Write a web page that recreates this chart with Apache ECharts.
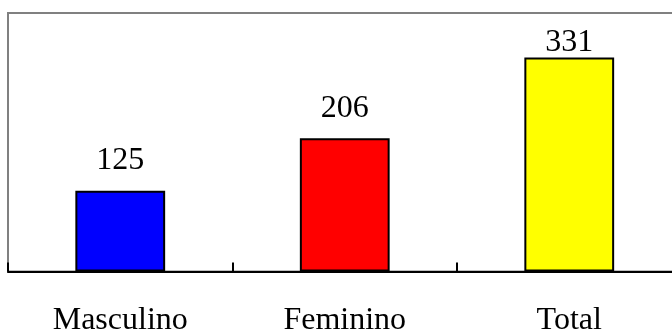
<!DOCTYPE html>
<html>
<head>
<meta charset="utf-8">
<style>
  html, body { margin: 0; padding: 0; background: #ffffff; }
  #chart { width: 672px; height: 332px; }
</style>
<script src="https://cdn.jsdelivr.net/npm/echarts@6/dist/echarts.min.js"></script>
</head>
<body>
<div id="chart"></div>
<script>
// Count by sex, plus the overall total
const categories = ['Masculino', 'Feminino', 'Total'];
const values = [125, 206, 331];
const barColors = ['#0000ff', '#ff0000', '#ffff00'];

const chart = echarts.init(document.getElementById('chart'), null, { renderer: 'canvas' });

const serif = '"Liberation Serif", "Times New Roman", serif';

chart.setOption({
  animation: false,
  backgroundColor: '#ffffff',
  grid: {
    left: 8,
    top: 13,
    width: 673.5,
    height: 258.5,
    outerBoundsMode: 'none',
    containLabel: false,
    show: true,
    borderColor: '#808080',
    borderWidth: 2,
    backgroundColor: 'transparent'
  },
  xAxis: {
    type: 'category',
    data: categories,
    axisLine: { lineStyle: { color: '#000000', width: 2 } },
    axisTick: { show: true, interval: 0, inside: true, length: 9, lineStyle: { color: '#000000', width: 2 } },
    axisLabel: { color: '#000000', fontFamily: serif, fontSize: 32, margin: 33 }
  },
  yAxis: {
    type: 'value',
    min: 0,
    max: 400,
    interval: 100,
    axisLine: { show: false },
    axisTick: { show: false },
    axisLabel: { show: false },
    splitLine: { show: false }
  },
  series: [{
    type: 'bar',
    barWidth: '40%',
    data: values.map((v, i) => ({
      value: v,
      itemStyle: { color: barColors[i] },
      // the tallest bar keeps its label tucked close under the frame
      label: { distance: i === values.length - 1 ? -1 : 14 }
    })),
    itemStyle: { borderColor: '#000000', borderWidth: 2 },
    label: {
      show: true,
      position: 'top',
      color: '#000000',
      fontFamily: serif,
      fontSize: 32
    }
  }]
});
</script>
</body>
</html>
